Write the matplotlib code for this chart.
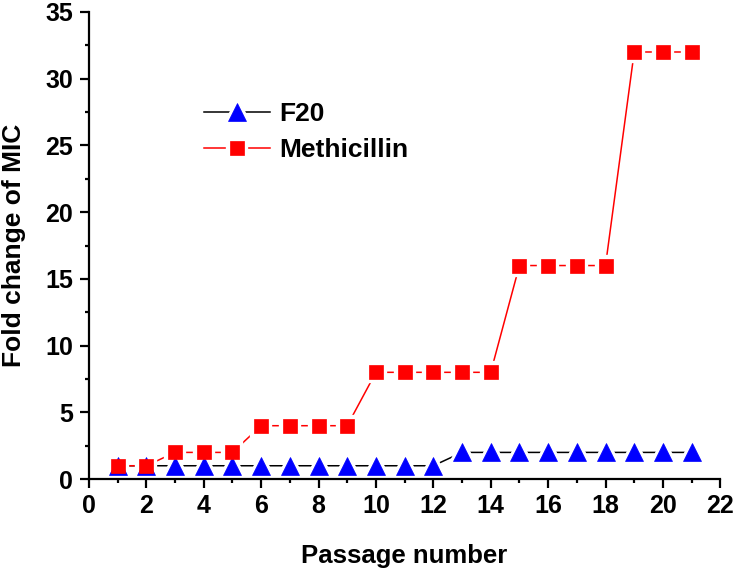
import numpy as np
import matplotlib.pyplot as plt
from matplotlib.ticker import MultipleLocator
from matplotlib.legend_handler import HandlerTuple

passage = list(range(1, 22))
f20 = [1] * 12 + [2] * 9
methicillin = [1, 1, 2, 2, 2, 4, 4, 4, 4, 8, 8, 8, 8, 8, 16, 16, 16, 16, 32, 32, 32]

plt.rcParams['font.family'] = ['Liberation Sans', 'DejaVu Sans']
plt.rcParams['font.weight'] = 'bold'

fig = plt.figure(figsize=(7.35, 5.69), dpi=100)
ax = fig.add_axes([0.121, 0.158, 0.859, 0.821])

# lines, then white halos (Origin-like gap around markers), then markers
l1, = ax.plot(passage, f20, color='black', lw=1.1, zorder=1)
l2, = ax.plot(passage, methicillin, color='red', lw=1.1, zorder=1)
h1, = ax.plot(passage, f20, ls='none', marker='^', ms=13, mfc='white',
              mec='white', mew=5, zorder=2)
h2, = ax.plot(passage, methicillin, ls='none', marker='s', ms=10, mfc='white',
              mec='white', mew=6, zorder=2)
m1, = ax.plot(passage, f20, ls='none', marker='^', ms=13, mfc='blue',
              mec='blue', mew=0.5, zorder=3)
m2, = ax.plot(passage, methicillin, ls='none', marker='s', ms=10, mfc='red',
              mec='red', mew=0.5, zorder=4)

ax.set_xlim(0, 22)
ax.set_ylim(0, 35)
ax.xaxis.set_major_locator(MultipleLocator(2))
ax.xaxis.set_minor_locator(MultipleLocator(1))
ax.yaxis.set_major_locator(MultipleLocator(5))
ax.yaxis.set_minor_locator(MultipleLocator(2.5))

for s in ['top', 'right']:
    ax.spines[s].set_visible(False)
for s in ['left', 'bottom']:
    ax.spines[s].set_linewidth(1.6)

ax.tick_params(which='major', direction='out', length=6.5, width=1.6, labelsize=18)
ax.tick_params(axis='y', which='major', pad=5)
ax.tick_params(axis='x', which='major', pad=4)
ax.tick_params(which='minor', direction='out', length=3, width=1.6)
for lab in ax.get_xticklabels() + ax.get_yticklabels():
    lab.set_fontweight('bold')

ax.set_xlabel('Passage number', fontsize=18.5, fontweight='bold', labelpad=19)
ax.set_ylabel('Fold change of MIC', fontsize=19, fontweight='bold', labelpad=14)

ax.legend([(l1, h1, m1), (l2, h2, m2)], ['F20', 'Methicillin'],
          handler_map={tuple: HandlerTuple(ndivide=1, pad=0)},
          loc='upper left', bbox_to_anchor=(0.165, 0.83), frameon=False,
          handlelength=2.5, handletextpad=0.35, labelspacing=0.45,
          borderaxespad=0, prop={'weight': 'bold', 'size': 19})

fig.savefig('out.png', dpi=100)
